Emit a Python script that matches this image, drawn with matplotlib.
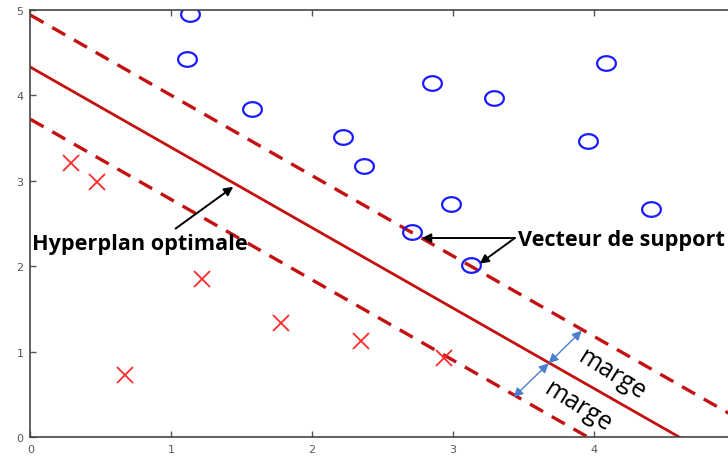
import numpy as np
import matplotlib
matplotlib.use('Agg')
import matplotlib.pyplot as plt
from matplotlib.path import Path

# ---- data ----
circle_x = [1.13, 1.11, 1.57, 2.22, 2.37, 2.85, 3.29, 4.09, 3.96, 2.99, 4.41, 2.71, 3.13]
circle_y = [4.95, 4.43, 3.84, 3.51, 3.17, 4.15, 3.97, 4.38, 3.47, 2.73, 2.67, 2.40, 2.01]

cross_x = [0.29, 0.47, 1.22, 0.67, 1.78, 2.35, 2.94]
cross_y = [3.21, 2.99, 1.85, 0.73, 1.33, 1.12, 0.93]

slope = -0.94
intercept = 4.33
margin = 0.61

x_ticks = [0, 1, 2, 3, 4]
y_ticks = [0, 1, 2, 3, 4, 5]

# arrows (tail, head) in data coords
hyper_arrow = ((1.03, 2.44), (1.44, 2.93))
sv_tail = (3.44, 2.33)
sv_heads = [(2.78, 2.33), (3.19, 2.03)]
marge_pts = [(3.915, 1.245), (3.68, 0.863), (3.43, 0.465)]

RED = '#c41010'
BLUE = '#1a1aff'

fig = plt.figure(figsize=(7.28, 4.60), dpi=100)
ax = fig.add_axes([30.5 / 728, 22 / 460, 5 * 140.8 / 728, 427 / 460])

xs = np.array([0, 5.5])
ax.plot(xs, intercept + slope * xs, color=RED, lw=2.0)
ax.plot(xs, intercept + margin + slope * xs, color=RED, lw=2.4, dashes=(4.5, 3))
ax.plot(xs, intercept - margin + slope * xs, color=RED, lw=2.4, dashes=(4.5, 3))

# slightly flattened circle marker (source image is stretched)
t = np.linspace(0, 2 * np.pi, 60)
ell = Path(np.column_stack([np.cos(t), 0.78 * np.sin(t)]))
ax.plot(circle_x, circle_y, ls='none', marker=ell, ms=13.5, mfc='none',
        mec=BLUE, mew=1.6)
ax.plot(cross_x, cross_y, ls='none', marker='x', ms=11, mec='#ff2a2a', mew=1.3)

# annotations
ax.annotate('', xy=hyper_arrow[1], xytext=hyper_arrow[0],
            arrowprops=dict(arrowstyle='-|>', color='black', lw=1.4,
                            mutation_scale=13, shrinkA=0, shrinkB=0))
ax.text(0.01, 2.27, 'Hyperplan optimale', fontsize=15.6, fontweight='bold',
        family='Open Sans', va='center', ha='left', color='black')

for h in sv_heads:
    ax.annotate('', xy=h, xytext=sv_tail,
                arrowprops=dict(arrowstyle='-|>', color='black', lw=1.4,
                                mutation_scale=13, shrinkA=0, shrinkB=0))
ax.text(3.46, 2.31, 'Vecteur de support', fontsize=15.6, fontweight='bold',
        family='Open Sans', va='center', ha='left', color='black')

for a, b in [(marge_pts[0], marge_pts[1]), (marge_pts[1], marge_pts[2])]:
    ax.annotate('', xy=a, xytext=b,
                arrowprops=dict(arrowstyle='<|-|>', color='#4a7fd0', lw=1.0,
                                mutation_scale=14, shrinkA=0, shrinkB=0))

ax.text(4.13, 0.73, 'marge', fontsize=18, family='Open Sans', rotation=-32,
        ha='center', va='center', rotation_mode='anchor')
ax.text(3.89, 0.36, 'marge', fontsize=18, family='Open Sans', rotation=-32,
        ha='center', va='center', rotation_mode='anchor')

ax.set_xlim(0, 5)
ax.set_ylim(0, 5)
ax.set_xticks(x_ticks)
ax.set_yticks(y_ticks)
ax.tick_params(direction='in', length=4, width=1, colors='#555555',
               labelsize=8, top=True, right=True, pad=5)
for s in ax.spines.values():
    s.set_color('#444444')
    s.set_linewidth(1.2)

fig.savefig('out.png', dpi=100)
